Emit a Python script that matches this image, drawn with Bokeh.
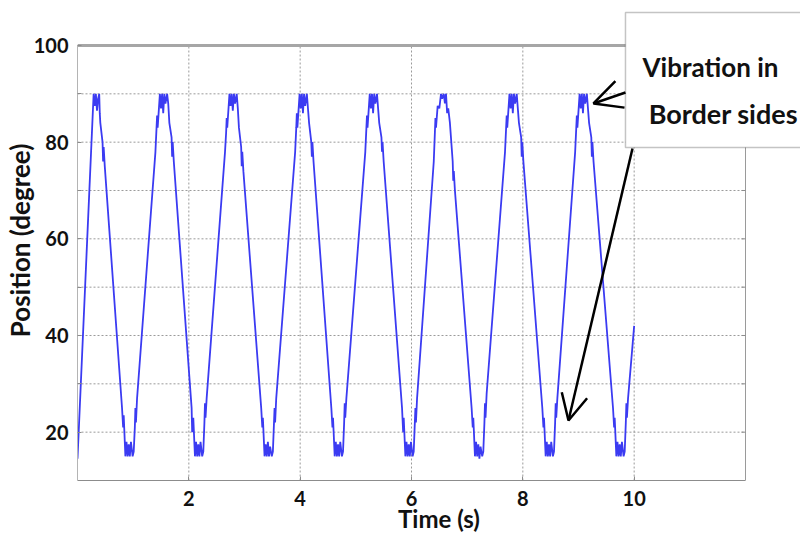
from bokeh.plotting import figure
from bokeh.models import (Range1d, FixedTicker, BoxAnnotation, Label, Arrow, OpenHead)
from bokeh.embed import file_html
from bokeh.resources import INLINE

# ---- data (time in s, position in degree) ----
start_t = [0.00]
start_v = [14.5]

cycle1_t = [0.29, 0.31, 0.33, 0.35, 0.37, 0.39, 0.40, 0.41, 0.45, 0.46, 0.47, 0.49,
            0.80, 0.82, 0.83, 0.86, 0.88, 0.90, 0.92, 0.94, 0.96, 0.99, 1.01, 1.03, 1.04, 1.05, 1.07]
cycle1_v = [90, 87.5, 90, 86.5, 89, 90, 86, 84, 80, 76, 79, 75,
            25, 21, 23.5, 15, 18, 15, 17.5, 15, 18, 15, 16, 21, 25, 22, 27]

cycle2_t = [1.40, 1.42, 1.43, 1.44, 1.48, 1.50, 1.52, 1.54, 1.56, 1.58, 1.61, 1.63, 1.65, 1.69, 1.70, 1.71, 1.73,
            2.05, 2.06, 2.08, 2.11, 2.13, 2.15, 2.17, 2.19, 2.21, 2.24, 2.26, 2.28, 2.29, 2.30, 2.32]
cycle2_v = [78, 83, 85.5, 83, 90, 87, 90, 86, 90, 88, 90, 88, 84, 81, 77, 80, 76,
            25, 20, 23, 15, 18, 15, 17.5, 15, 18, 15, 16, 22, 26, 23, 27]

cycle3_t = [2.65, 2.67, 2.68, 2.69, 2.73, 2.75, 2.77, 2.79, 2.81, 2.83, 2.86, 2.88, 2.90, 2.94, 2.95, 2.96, 2.98,
            3.30, 3.32, 3.33, 3.36, 3.38, 3.40, 3.42, 3.44, 3.46, 3.49, 3.51, 3.53, 3.54, 3.55, 3.57]
cycle3_v = [78, 82, 85, 83, 90, 87.5, 90, 86.5, 90, 88, 90, 87, 83, 79, 75, 78, 74,
            25, 21, 23, 15, 17.5, 15, 18, 15, 17, 15, 16, 22, 25, 22, 27]

cycle4_t = [3.91, 3.93, 3.94, 3.95, 3.99, 4.01, 4.03, 4.05, 4.07, 4.09, 4.12, 4.14, 4.16, 4.20, 4.21, 4.22, 4.24,
            4.56, 4.58, 4.59, 4.62, 4.64, 4.66, 4.68, 4.70, 4.72, 4.75, 4.77, 4.79, 4.80, 4.81, 4.83]
cycle4_v = [78, 83, 86, 83, 90, 87, 90, 86, 90, 87.5, 90, 87, 84, 80, 77, 80, 76,
            25, 21, 23, 15, 18, 15, 17.5, 15, 18, 15, 16, 22, 26, 23, 27]

cycle5_t = [5.17, 5.19, 5.20, 5.21, 5.25, 5.27, 5.29, 5.31, 5.33, 5.35, 5.38, 5.40, 5.42, 5.46, 5.47, 5.48, 5.50,
            5.83, 5.85, 5.86, 5.89, 5.91, 5.93, 5.95, 5.97, 5.99, 6.02, 6.04, 6.06, 6.07, 6.08, 6.10]
cycle5_v = [78, 83, 85.5, 83, 90, 87, 90, 86, 90, 88, 90, 87, 84, 81, 78, 80, 76,
            25, 20, 23, 15, 18, 15, 17.5, 15, 18, 15, 16, 22, 25, 22, 27]

cycle6_t = [6.40, 6.42, 6.43, 6.44, 6.47, 6.50, 6.53, 6.55, 6.58, 6.60, 6.62, 6.64, 6.66, 6.69, 6.74, 6.75, 6.76, 6.78,
            7.08, 7.10, 7.11, 7.14, 7.16, 7.18, 7.20, 7.22, 7.24, 7.27, 7.29, 7.31, 7.32, 7.33, 7.35]
cycle6_v = [76, 82, 85, 83, 87.5, 87, 90, 89, 90, 88, 90, 86, 87, 84, 76, 72, 74, 70,
            25, 21, 23, 15, 18, 15, 17.5, 14.5, 17, 15, 16, 22, 26, 23, 28]

cycle7_t = [7.68, 7.70, 7.71, 7.72, 7.76, 7.78, 7.80, 7.82, 7.84, 7.86, 7.89, 7.91, 7.93, 7.97, 7.98, 7.99, 8.01,
            8.35, 8.37, 8.38, 8.41, 8.43, 8.45, 8.47, 8.49, 8.51, 8.54, 8.56, 8.58, 8.59, 8.60, 8.62]
cycle7_v = [78, 83, 85.5, 83, 90, 87, 90, 86, 90, 88, 90, 87, 84, 81, 77, 80, 76,
            25, 21, 23, 15, 18, 15, 17.5, 15, 18, 15, 16, 22, 26, 23, 27]

cycle8_t = [8.94, 8.96, 8.97, 8.98, 9.02, 9.04, 9.06, 9.08, 9.10, 9.12, 9.15, 9.17, 9.19, 9.23, 9.24, 9.25, 9.27,
            9.62, 9.64, 9.65, 9.68, 9.70, 9.72, 9.74, 9.76, 9.78, 9.81, 9.83, 9.85, 9.86, 9.87, 9.89]
cycle8_v = [78, 83, 85.5, 83, 90, 87, 90, 86, 90, 88, 90, 87, 84, 81, 77, 80, 76,
            25, 21, 23, 15, 18, 15, 17.5, 15, 18, 15, 16, 22, 26, 23, 27]

end_t = [10.00]
end_v = [42]

x_ticks = [2, 4, 6, 8, 10]
y_ticks = [20, 30, 40, 50, 60, 70, 80, 90, 100]
y_tick_labels = {20: "20", 30: "", 40: "40", 50: "", 60: "60", 70: "", 80: "80", 90: "", 100: "100"}

x_label = "Time (s)"
y_label = "Position (degree)"
note_line1 = "Vibration in"
note_line2 = "Border sides"

# axes limits of the plotted box
x_min, x_max = 0, 12
y_min, y_max = 10, 100

time_s = (start_t + cycle1_t + cycle2_t + cycle3_t + cycle4_t + cycle5_t
          + cycle6_t + cycle7_t + cycle8_t + end_t)
position_deg = (start_v + cycle1_v + cycle2_v + cycle3_v + cycle4_v + cycle5_v
                + cycle6_v + cycle7_v + cycle8_v + end_v)

FONT = "Lato"

# frame spans to the right and top edge of the canvas so that the note box can overflow
p = figure(width=800, height=538, output_backend="svg", toolbar_location=None,
           x_range=Range1d(x_min, 12.988), y_range=Range1d(y_min, 109.31),
           min_border_left=77, min_border_right=0, min_border_top=0, min_border_bottom=58)
p.background_fill_color = "white"
p.border_fill_color = "white"
p.outline_line_color = None
p.xgrid.visible = False
p.ygrid.visible = False

# dotted grid limited to the plot box
p.segment(x0=x_ticks, x1=x_ticks, y0=[y_min] * len(x_ticks), y1=[y_max] * len(x_ticks),
          line_color="#9a9a9a", line_dash="2 2", line_width=1)
p.segment(x0=[x_min] * len(y_ticks), x1=[x_max] * len(y_ticks), y0=y_ticks, y1=y_ticks,
          line_color="#9a9a9a", line_dash="2 2", line_width=1)

# data line
p.line(time_s, position_deg, line_color="#3b3bf2", line_width=1.8)

# plot box: top (thick), right side with inward ticks
p.line([x_min, x_max], [y_max, y_max], line_color="#a6a6a6", line_width=3)
p.line([x_max, x_max], [y_min, y_max], line_color="#9a9a9a", line_width=1)
p.segment(x0=[x_max - 0.07] * len(y_ticks), x1=[x_max] * len(y_ticks), y0=y_ticks, y1=y_ticks,
          line_color="#8c8c8c", line_width=1)

# axes
xa = p.xaxis[0]
xa.ticker = FixedTicker(ticks=x_ticks)
xa.bounds = (x_min, x_max)
xa.axis_label = x_label
xa.axis_label_text_font = FONT
xa.axis_label_text_font_style = "bold"
xa.axis_label_text_font_size = "24px"
xa.axis_label_text_color = "#111111"
xa.axis_label_standoff = -5
xa.major_label_text_font = FONT
xa.major_label_text_font_style = "bold"
xa.major_label_text_font_size = "20px"
xa.major_label_text_color = "#111111"
xa.major_label_standoff = 10
xa.axis_line_color = "#8c8c8c"
xa.major_tick_in = 4
xa.major_tick_out = 0
xa.major_tick_line_color = "#8c8c8c"
xa.minor_tick_line_color = None

ya = p.yaxis[0]
ya.ticker = FixedTicker(ticks=y_ticks)
ya.bounds = (y_min, y_max)
ya.major_label_overrides = y_tick_labels
ya.axis_label = y_label
ya.axis_label_text_font = FONT
ya.axis_label_text_font_style = "bold"
ya.axis_label_text_font_size = "26px"
ya.axis_label_text_color = "#111111"
ya.axis_label_standoff = -5
ya.major_label_text_font = FONT
ya.major_label_text_font_style = "bold"
ya.major_label_text_font_size = "20px"
ya.major_label_text_color = "#111111"
ya.major_label_standoff = 9
ya.axis_line_color = "#b4b4b4"
ya.major_tick_in = 4
ya.major_tick_out = 0
ya.major_tick_line_color = "#8c8c8c"
ya.minor_tick_line_color = None

# annotation box, text and arrows
p.add_layout(BoxAnnotation(left=9.844, right=13.5, top=106.83, bottom=78.9,
                           fill_color="white", fill_alpha=1.0,
                           line_color="#3a3a3a", line_width=1.5))
p.add_layout(Label(x=10.15, y=95.45, text=note_line1, text_font=FONT, text_font_style="bold",
                   text_font_size="26px", text_color="#111111", text_baseline="alphabetic"))
p.add_layout(Label(x=10.26, y=85.93, text=note_line2, text_font=FONT, text_font_style="bold",
                   text_font_size="27px", text_color="#111111", text_baseline="alphabetic"))
p.add_layout(Arrow(end=OpenHead(size=28, line_width=2.5, line_color="black"),
                   x_start=9.844, y_start=90.28, x_end=9.269, y_end=88.0,
                   line_width=2.5, line_color="black"))
p.add_layout(Arrow(end=OpenHead(size=26, line_width=2.5, line_color="black"),
                   x_start=9.97, y_start=78.69, x_end=8.82, y_end=22.41,
                   line_width=2.5, line_color="black"))

open("out.html", "w").write(file_html(p, INLINE))
